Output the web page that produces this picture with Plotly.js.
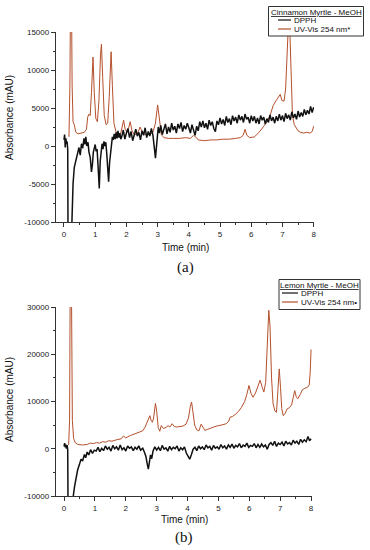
<!DOCTYPE html>
<html>
<head>
<meta charset="utf-8">
<script src="https://cdn.plot.ly/plotly-3.0.1.min.js"></script>
<style>html,body{margin:0;padding:0;background:#fff;}#chart{width:370px;height:550px;}</style>
</head>
<body>
<div id="chart"></div>
<script>
// ---------- Data (a) Cinnamon Myrtle - MeOH ----------
const uvA_t = [0.16,0.19,0.21,0.24,0.26,0.29,0.33,0.38,0.45,0.55,0.65,0.72,0.76,0.8,0.84,0.88,0.93,0.97,1.02,1.07,1.12,1.17,1.2,1.24,1.29,1.35,1.4,1.45,1.51,1.55,1.6,1.67,1.75,1.82,1.87,1.91,1.96,2.02,2.08,2.12,2.18,2.25,2.35,2.44,2.52,2.62,2.75,2.85,2.93,3.0,3.05,3.12,3.2,3.35,3.5,3.7,3.9,4.05,4.15,4.22,4.3,4.5,4.7,4.9,5.1,5.3,5.5,5.65,5.74,5.8,5.86,5.95,6.1,6.25,6.4,6.5,6.6,6.7,6.8,6.88,6.93,6.98,7.05,7.1,7.15,7.19,7.23,7.27,7.32,7.38,7.45,7.5,7.58,7.68,7.78,7.88,7.95,8.0];
const uvA_v = [1200,8000,20000,20000,8000,3200,2800,1800,1600,1700,1800,2200,3800,4200,4000,7000,11700,7000,3600,3200,6000,12000,13400,9000,4000,2800,3000,6500,12400,8000,3000,1800,1600,1700,2500,3400,2200,1800,2500,3200,2000,1500,1600,2500,1700,1500,1500,1800,3000,5400,3800,1500,1100,1000,1000,1000,1100,1000,1400,1200,800,700,800,800,900,900,1000,1100,1400,2200,1400,1100,1200,1800,2600,3200,4000,5300,6000,6600,6800,6000,5900,7500,14000,16000,16000,9000,4000,2800,2400,2000,1800,1700,1800,1700,1900,2600];

const dpA_t = [0.0,0.02,0.04,0.06,0.08,0.10,0.12,0.13,0.24,0.26,0.29,0.33,0.38,0.44,0.48,0.52,0.56,0.6,0.64,0.67,0.7,0.73,0.77,0.8,0.84,0.88,0.91,0.94,0.97,1.0,1.03,1.06,1.09,1.13,1.16,1.19,1.22,1.25,1.28,1.31,1.34,1.37,1.4,1.43,1.46,1.49,1.52,1.55,1.58,1.61,1.64,1.67,1.7,1.73,1.76,1.79,1.82,
  1.85,1.9,1.95,2.0,2.05,2.1,2.15,2.2,2.25,2.3,2.35,2.4,2.45,2.5,2.55,2.6,2.65,2.7,2.75,2.8,2.85,
  2.88,2.91,2.93,2.95,2.98,3.02,3.06,
  3.1,3.15,3.2,3.25,3.3,3.35,3.4,3.45,3.5,3.55,
  3.6,3.65,3.7,3.75,3.8,3.85,3.9,3.95,4.0,4.05,
  4.1,4.15,4.2,4.25,4.3,4.35,4.4,4.45,4.5,4.55,
  4.6,4.65,4.7,4.75,4.8,4.85,4.9,4.95,5.0,5.05,
  5.1,5.15,5.2,5.25,5.3,5.35,5.4,5.45,5.5,5.55,
  5.6,5.65,5.7,5.75,5.8,5.85,5.9,5.95,6.0,6.05,
  6.1,6.15,6.2,6.25,6.3,6.35,6.4,6.45,6.5,6.55,
  6.6,6.65,6.7,6.75,6.8,6.85,6.9,6.95,7.0,7.05,
  7.1,7.15,7.2,7.25,7.3,7.35,7.4,7.45,7.5,7.55,
  7.6,7.65,7.7,7.75,7.8,7.85,7.9,7.95,8.0];
const dpA_v = [800,1500,-200,1000,300,600,-500,-13000,-12000,-8500,-5000,-2800,-1800,-800,-200,-1200,300,-300,1000,200,1200,0,500,-800,-1500,-3400,-2500,-800,-300,200,-700,-400,-2500,-5600,-2000,-600,300,-400,600,0,500,-1000,-2500,-4700,-2200,-700,400,1200,800,1600,900,1800,1000,2000,1100,1700,900,
  1200,2100,900,1700,2300,1100,1900,700,1500,2200,1300,1800,800,2000,1400,2400,1100,1900,1300,2300,1400,
  600,-800,-1600,-400,1200,2500,1700,
  2700,1500,2300,2900,1600,2500,1800,3000,2100,2600,
  1700,2900,2300,3100,1900,2700,2200,3000,2400,1700,
  2800,2100,1400,2600,2000,3200,2500,3300,2400,3000,
  2200,3400,2700,3200,2300,1900,3300,2800,3700,2900,
  3500,2700,3900,3100,3600,2800,4000,3300,3800,3000,
  4100,3400,3900,3100,4200,3500,3800,3000,4000,3300,
  3900,3000,3700,2900,4000,3400,3800,2900,3600,3100,
  4100,3300,3800,3000,3900,3300,4200,3400,4000,3200,
  4300,3600,4100,3400,4500,3700,4200,3500,4600,3800,
  4400,3900,4800,4100,4700,4200,5200,4400,5100];

// ---------- Data (b) Lemon Myrtle - MeOH ----------
const uvB_t = [0.15,0.18,0.2,0.24,0.27,0.31,0.36,0.45,0.6,0.75,0.85,0.95,1.05,1.15,1.25,1.35,1.45,1.55,1.7,1.85,1.92,2.0,2.15,2.3,2.45,2.55,2.62,2.68,2.73,2.78,2.82,2.86,2.9,2.96,3.0,3.05,3.1,3.15,3.22,3.3,3.37,3.43,3.5,3.57,3.65,3.75,3.85,3.95,4.03,4.09,4.13,4.17,4.23,4.3,4.37,4.44,4.5,4.56,4.65,4.75,4.85,4.95,5.05,5.15,5.25,5.33,5.38,5.45,5.55,5.65,5.75,5.85,5.92,5.99,6.05,6.12,6.2,6.28,6.35,6.42,6.47,6.53,6.58,6.63,6.67,6.72,6.77,6.83,6.88,6.93,6.97,7.01,7.05,7.1,7.16,7.22,7.3,7.37,7.42,7.47,7.52,7.57,7.65,7.72,7.8,7.88,7.94,7.97,8.0];
const uvB_v = [800,6000,35000,35000,6000,2200,1300,900,800,900,1200,1100,1300,1200,1500,1400,1700,1600,1900,2100,2700,2300,2800,3200,3500,3800,4500,5500,6300,7000,6000,5600,6500,9600,8000,4500,3700,4900,4300,4500,4900,4600,5300,4700,4600,4700,4800,5200,6500,9000,9900,8000,5000,4000,3800,5200,4600,3900,4100,4400,4600,4800,4900,5100,5300,5800,6700,6800,7300,7900,8800,10000,11500,13400,11800,10900,11800,13500,14500,13000,12000,14000,21000,29300,26000,15000,9500,8000,7700,12000,16900,13000,8500,7000,7500,8400,8700,9300,10500,12300,11000,10600,11500,12500,12800,13000,13500,16000,21000];

const dpB_t = [0.0,0.02,0.04,0.06,0.08,0.1,0.12,0.13,0.28,0.3,
  0.34,0.39,0.44,0.5,0.55,0.6,0.66,0.7,0.75,0.8,
  0.86,0.92,0.98,1.04,1.1,1.16,1.22,1.28,1.34,1.4,
  1.46,1.52,1.58,1.64,1.7,1.76,1.82,1.88,1.94,2.0,
  2.06,2.12,2.18,2.24,2.3,2.36,2.42,2.48,2.55,2.6,
  2.65,2.7,2.73,2.77,2.8,2.84,2.88,2.94,3.0,3.06,
  3.12,3.18,3.24,3.3,3.36,3.42,3.48,3.54,3.6,3.66,
  3.72,3.78,3.84,3.9,3.96,4.02,4.07,4.12,4.18,4.24,
  4.3,4.36,4.42,4.48,4.54,4.6,4.66,4.72,4.78,4.84,
  4.9,4.96,5.02,5.08,5.14,5.2,5.26,5.32,5.38,5.44,
  5.5,5.56,5.62,5.68,5.74,5.8,5.86,5.92,5.98,6.04,
  6.1,6.16,6.22,6.28,6.34,6.4,6.46,6.52,6.58,6.64,
  6.7,6.76,6.82,6.88,6.94,7.0,7.06,7.12,7.18,7.24,
  7.3,7.36,7.42,7.48,7.54,7.6,7.66,7.72,7.78,7.84,
  7.9,7.95,8.0];
const dpB_v = [500,1200,300,900,0,800,-300,-13000,-13000,-10000,
  -8000,-6100,-4500,-3300,-2200,-2600,-1200,-1900,-700,-1300,
  -200,-1000,-300,-500,300,-600,100,-400,600,-100,
  300,-500,700,0,400,-300,800,-200,200,-500,
  600,100,400,-400,300,-100,600,-300,100,-700,
  -1600,-3400,-4300,-2600,-1300,-2100,-500,400,-300,300,
  -400,700,-100,200,-500,500,-200,300,0,600,
  -500,200,-200,400,-900,-1600,-2200,-1300,-100,300,
  -400,600,0,400,-200,800,200,500,-300,700,
  100,400,-100,900,200,600,-100,800,300,1000,
  100,700,400,1100,200,800,500,1200,300,700,
  500,1100,200,900,300,1000,400,800,-100,900,
  1300,700,1600,500,1200,900,1400,600,1600,1000,
  1300,800,1800,1200,1600,900,2000,1400,1900,1500,
  2600,1700,2100];

// ---------- Ticks & labels ----------
const xTicks = [0,1,2,3,4,5,6,7,8];
const xTickText = ['0','1','2','3','4','5','6','7','8'];
const yTicksA = [-10000,-5000,0,5000,10000,15000];
const yTickTextA = ['-10000','-5000','0','5000','10000','15000'];
const yTicksB = [-10000,0,10000,20000,30000];
const yTickTextB = ['-10000','0','10000','20000','30000'];
const seriesNames = ['DPPH', 'UV-Vis 254 nm*', 'UV-Vis 254 nm\u2022'];
const panelTitles = ['Cinnamon Myrtle - MeOH', 'Lemon Myrtle - MeOH'];
const panelLabels = ['(a)', '(b)'];

const BLACK = '#111111';
const ORANGE = '#B5502C';
const FONT = 'Liberation Sans, Arial, sans-serif';

const W = 370, H = 550;
const px = x => x / W;
const py = y => 1 - y / H;

const traces = [
  {x: uvA_t, y: uvA_v, xaxis: 'x', yaxis: 'y', mode: 'lines', name: seriesNames[1], line: {color: ORANGE, width: 1}},
  {x: dpA_t, y: dpA_v, xaxis: 'x', yaxis: 'y', mode: 'lines', name: seriesNames[0], line: {color: BLACK, width: 1.5}},
  {x: uvB_t, y: uvB_v, xaxis: 'x2', yaxis: 'y2', mode: 'lines', name: seriesNames[2], line: {color: ORANGE, width: 1}},
  {x: dpB_t, y: dpB_v, xaxis: 'x2', yaxis: 'y2', mode: 'lines', name: seriesNames[0], line: {color: BLACK, width: 1.5}}
];

function xAxis(domain, range, anchor) {
  return {
    domain: domain, range: range, anchor: anchor,
    tickmode: 'array', tickvals: xTicks, ticktext: xTickText,
    ticks: 'outside', ticklen: 4, tickwidth: 1, tickcolor: '#333',
    minor: {ticks: 'outside', ticklen: 2, dtick: 0.5, tick0: 0, tickcolor: '#333', showgrid: false},
    showline: true, linecolor: '#333', linewidth: 1.2, mirror: false,
    showgrid: false, zeroline: false, fixedrange: true,
    tickfont: {family: FONT, size: 8, color: '#222'}
  };
}
function yAxis(domain, range, vals, text, minorDtick, anchor) {
  return {
    domain: domain, range: range, anchor: anchor,
    tickmode: 'array', tickvals: vals, ticktext: text,
    ticks: 'outside', ticklen: 4, tickwidth: 1, tickcolor: '#333',
    minor: {ticks: 'outside', ticklen: 2, dtick: minorDtick, tick0: 0, tickcolor: '#333', showgrid: false},
    showline: true, linecolor: '#333', linewidth: 1.2, mirror: false,
    showgrid: false, zeroline: false, fixedrange: true,
    tickfont: {family: FONT, size: 8, color: '#222'}
  };
}

const layout = {
  width: W, height: H,
  margin: {l: 0, r: 0, t: 0, b: 0},
  paper_bgcolor: '#fff', plot_bgcolor: 'rgba(0,0,0,0)',
  showlegend: false,
  xaxis: xAxis([px(56), px(314)], [-0.256, 8.01], 'y'),
  yaxis: yAxis([py(222), py(32)], [-10000, 15000], yTicksA, yTickTextA, 2500, 'x'),
  xaxis2: xAxis([px(56), px(312)], [-0.26, 8.03], 'y2'),
  yaxis2: yAxis([py(496), py(307)], [-10000, 30000], yTicksB, yTickTextB, 5000, 'x2'),
  shapes: [
    {type: 'rect', xref: 'paper', yref: 'paper', x0: px(268.5), x1: px(363.5), y0: py(6.5), y1: py(36), line: {color: '#333', width: 1}, fillcolor: '#fff'},
    {type: 'line', xref: 'paper', yref: 'paper', x0: px(278), x1: px(291), y0: py(20), y1: py(20), line: {color: BLACK, width: 1.2}},
    {type: 'line', xref: 'paper', yref: 'paper', x0: px(278), x1: px(291), y0: py(29), y1: py(29), line: {color: ORANGE, width: 1.2}},
    {type: 'rect', xref: 'paper', yref: 'paper', x0: px(279), x1: px(360), y0: py(279.5), y1: py(309.5), line: {color: '#333', width: 1}, fillcolor: '#fff'},
    {type: 'line', xref: 'paper', yref: 'paper', x0: px(282), x1: px(298), y0: py(293), y1: py(293), line: {color: BLACK, width: 1.2}},
    {type: 'line', xref: 'paper', yref: 'paper', x0: px(282), x1: px(298), y0: py(302), y1: py(302), line: {color: ORANGE, width: 1.2}}
  ],
  annotations: [
    {xref: 'paper', yref: 'paper', x: px(316), y: py(12), text: '<span style="text-decoration:underline">' + panelTitles[0] + '</span>', showarrow: false, xanchor: 'center', yanchor: 'middle', font: {family: FONT, size: 8, color: '#111'}},
    {xref: 'paper', yref: 'paper', x: px(292), y: py(20), text: seriesNames[0], showarrow: false, xanchor: 'left', yanchor: 'middle', font: {family: FONT, size: 8, color: '#111'}},
    {xref: 'paper', yref: 'paper', x: px(292), y: py(29), text: seriesNames[1], showarrow: false, xanchor: 'left', yanchor: 'middle', font: {family: FONT, size: 8, color: '#111'}},
    {xref: 'paper', yref: 'paper', x: px(319.5), y: py(285), text: '<span style="text-decoration:underline">' + panelTitles[1] + '</span>', showarrow: false, xanchor: 'center', yanchor: 'middle', font: {family: FONT, size: 8, color: '#111'}},
    {xref: 'paper', yref: 'paper', x: px(299), y: py(293), text: seriesNames[0], showarrow: false, xanchor: 'left', yanchor: 'middle', font: {family: FONT, size: 8, color: '#111'}},
    {xref: 'paper', yref: 'paper', x: px(299), y: py(302), text: seriesNames[2], showarrow: false, xanchor: 'left', yanchor: 'middle', font: {family: FONT, size: 8, color: '#111'}},
    {xref: 'paper', yref: 'paper', x: px(9), y: py(118), text: 'Absorbance (mAU)', textangle: -90, showarrow: false, xanchor: 'center', yanchor: 'middle', font: {family: FONT, size: 10, color: '#111'}},
    {xref: 'paper', yref: 'paper', x: px(185), y: py(247), text: 'Time (min)', showarrow: false, xanchor: 'center', yanchor: 'middle', font: {family: FONT, size: 10, color: '#111'}},
    {xref: 'paper', yref: 'paper', x: px(9), y: py(400), text: 'Absorbance (mAU)', textangle: -90, showarrow: false, xanchor: 'center', yanchor: 'middle', font: {family: FONT, size: 10, color: '#111'}},
    {xref: 'paper', yref: 'paper', x: px(184), y: py(519), text: 'Time (min)', showarrow: false, xanchor: 'center', yanchor: 'middle', font: {family: FONT, size: 10, color: '#111'}},
    {xref: 'paper', yref: 'paper', x: px(185), y: py(267), text: panelLabels[0], showarrow: false, xanchor: 'center', yanchor: 'middle', font: {family: 'Liberation Serif, Times New Roman, serif', size: 15, color: '#111'}},
    {xref: 'paper', yref: 'paper', x: px(184), y: py(537), text: panelLabels[1], showarrow: false, xanchor: 'center', yanchor: 'middle', font: {family: 'Liberation Serif, Times New Roman, serif', size: 15, color: '#111'}}
  ]
};

Plotly.newPlot('chart', traces, layout, {displayModeBar: false, staticPlot: true});
</script>
</body>
</html>
